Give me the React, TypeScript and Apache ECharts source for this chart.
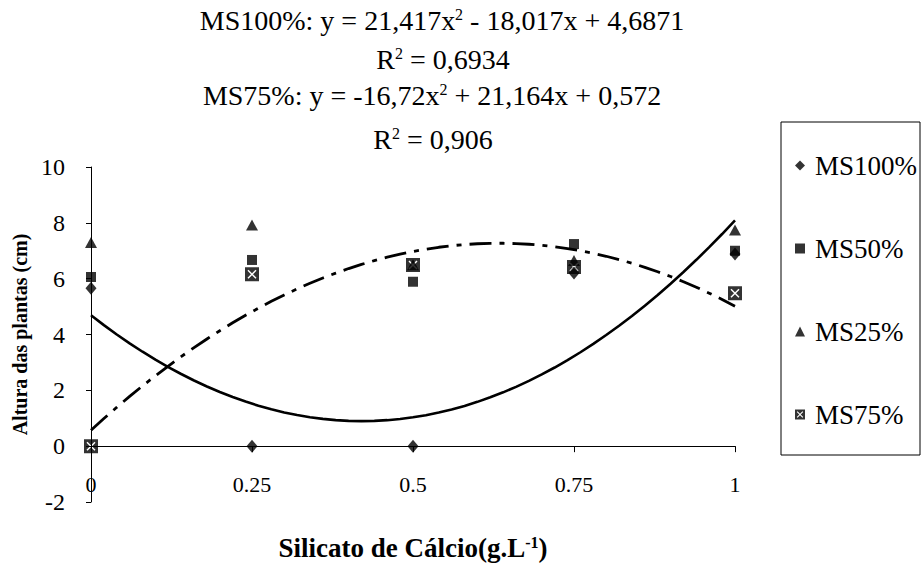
import React, { useEffect, useRef } from "react";
import * as echarts from "echarts";

// Silicate doses (g.L-1)
const doses = [0, 0.25, 0.5, 0.75, 1];

// Plant height (cm) per substrate mix
const ms100 = [5.66, 0, 0, 6.2, 6.88];
const ms50 = [6.06, 6.67, 5.89, 7.24, 7.0];
const ms25 = [7.3, 7.92, 6.5, 6.65, 7.74];
const ms75 = [0, 6.16, 6.49, 6.42, 5.48];

// Quadratic trendline coefficients [c, b, a] for y = a x^2 + b x + c
const fitMs100 = [4.6871, -18.017, 21.417];
const fitMs75 = [0.572, 21.164, -16.72];

const seriesNames = ["MS100%", "MS50%", "MS25%", "MS75%"];
const yTicks = [-2, 10, 2];
const xTicks = [0, 1, 0.25];

const FONT = "Liberation Serif";

// black box with a white cross cut out (opposite winding → hole)
const boxX =
  "path://M0 0L14 0L14 14L0 14Z" +
  "M2.5 3.5L6 7L2.5 10.5L3.5 11.5L7 8L10.5 11.5L11.5 10.5L8 7L11.5 3.5L10.5 2.5L7 6L3.5 2.5Z";

function trend(coef: number[]): number[][] {
  const pts: number[][] = [];
  for (let i = 0; i <= 50; i++) {
    const x = i / 50;
    pts.push([x, coef[0] + coef[1] * x + coef[2] * x * x]);
  }
  return pts;
}

const pair = (ys: number[]) => doses.map((x, i) => [x, ys[i]]);

export default function App() {
  const ref = useRef<HTMLDivElement>(null);

  useEffect(() => {
    if (!ref.current) return;
    const chart = echarts.init(ref.current, undefined, { renderer: "svg" });

    const sup = { fontSize: 16, fontFamily: FONT, color: "#000", verticalAlign: "top" as const };
    const base = { fontSize: 28, fontFamily: FONT, color: "#000" };

    chart.setOption({
      animation: false,
      backgroundColor: "#fff",
      textStyle: { fontFamily: FONT },
      grid: {
        left: 91,
        right: 187,
        top: 167,
        bottom: 64,
        containLabel: false,
        outerBoundsMode: "none",
      },
      xAxis: {
        type: "value",
        min: xTicks[0],
        max: xTicks[1],
        interval: xTicks[2],
        splitLine: { show: false },
        axisLine: { onZero: true, lineStyle: { color: "#000", width: 1 } },
        axisTick: { show: true, length: 6, lineStyle: { color: "#000" } },
        axisLabel: { margin: -29, fontSize: 22, fontFamily: FONT, color: "#000" },
        name: "Silicato de Cálcio(g.L{s|-1})",
        nameLocation: "middle",
        nameGap: 32,
        nameTextStyle: {
          fontSize: 27,
          fontWeight: "bold",
          fontFamily: FONT,
          color: "#000",
          rich: { s: { fontSize: 16, fontWeight: "bold", fontFamily: FONT, verticalAlign: "top" } },
        },
      },
      yAxis: {
        type: "value",
        min: yTicks[0],
        max: yTicks[1],
        interval: yTicks[2],
        splitLine: { show: false },
        axisLine: { show: true, onZero: false, lineStyle: { color: "#000", width: 1 } },
        axisTick: { show: true, length: 5, lineStyle: { color: "#000" } },
        axisLabel: { margin: 26, fontSize: 24, fontFamily: FONT, color: "#000" },
        name: "Altura das plantas (cm)",
        nameLocation: "middle",
        nameGap: 43,
        nameTextStyle: { fontSize: 20, fontWeight: "bold", fontFamily: FONT, color: "#000" },
      },
      legend: {
        orient: "vertical",
        left: 795,
        top: 152,
        padding: 0,
        itemGap: 56,
        itemWidth: 10,
        itemHeight: 10,
        data: seriesNames,
        textStyle: { fontSize: 27, fontFamily: FONT, color: "#000", lineHeight: 26, padding: [0, 0, 0, 5] },
      },
      graphic: [
        {
          type: "rect",
          shape: { x: 781, y: 122, width: 139, height: 333 },
          style: { fill: "none", stroke: "#000", lineWidth: 1 },
          z: -1,
        },
        {
          type: "text",
          x: 442,
          y: 20,
          style: {
            text: "MS100%: y = 21,417x{s|2} - 18,017x + 4,6871",
            align: "center",
            verticalAlign: "middle",
            ...base,
            rich: { s: sup },
          },
        },
        {
          type: "text",
          x: 443,
          y: 59,
          style: { text: "R{s|2} = 0,6934", align: "center", verticalAlign: "middle", ...base, rich: { s: sup } },
        },
        {
          type: "text",
          x: 432,
          y: 95,
          style: {
            text: "MS75%: y = -16,72x{s|2} + 21,164x + 0,572",
            align: "center",
            verticalAlign: "middle",
            ...base,
            rich: { s: sup },
          },
        },
        {
          type: "text",
          x: 433,
          y: 139,
          style: { text: "R{s|2} = 0,906", align: "center", verticalAlign: "middle", ...base, rich: { s: sup } },
        },
      ],
      series: [
        {
          name: "MS100% tendência",
          type: "line",
          data: trend(fitMs100),
          showSymbol: false,
          silent: true,
          lineStyle: { color: "#000", width: 2.6 },
          z: 1,
        },
        {
          name: "MS75% tendência",
          type: "line",
          data: trend(fitMs75),
          showSymbol: false,
          silent: true,
          lineStyle: { color: "#000", width: 2.8, type: [22, 8, 5, 8] },
          z: 1,
        },
        {
          name: seriesNames[0],
          type: "scatter",
          data: pair(ms100),
          symbol: "diamond",
          symbolSize: [11, 13],
          itemStyle: { color: "#000" },
          z: 2,
        },
        {
          name: seriesNames[1],
          type: "scatter",
          data: pair(ms50),
          symbol: "rect",
          symbolSize: 10,
          itemStyle: { color: "#000" },
          z: 2,
        },
        {
          name: seriesNames[2],
          type: "scatter",
          data: pair(ms25),
          symbol: "triangle",
          symbolSize: [12, 11],
          itemStyle: { color: "#000" },
          z: 2,
        },
        {
          name: seriesNames[3],
          type: "scatter",
          data: pair(ms75),
          symbol: boxX,
          symbolSize: 14,
          itemStyle: { color: "#000" },
          z: 3,
        },
      ],
    });

    return () => chart.dispose();
  }, []);

  return <div ref={ref} style={{ width: 922, height: 566, position: "absolute", left: 0, top: 0 }} />;
}
